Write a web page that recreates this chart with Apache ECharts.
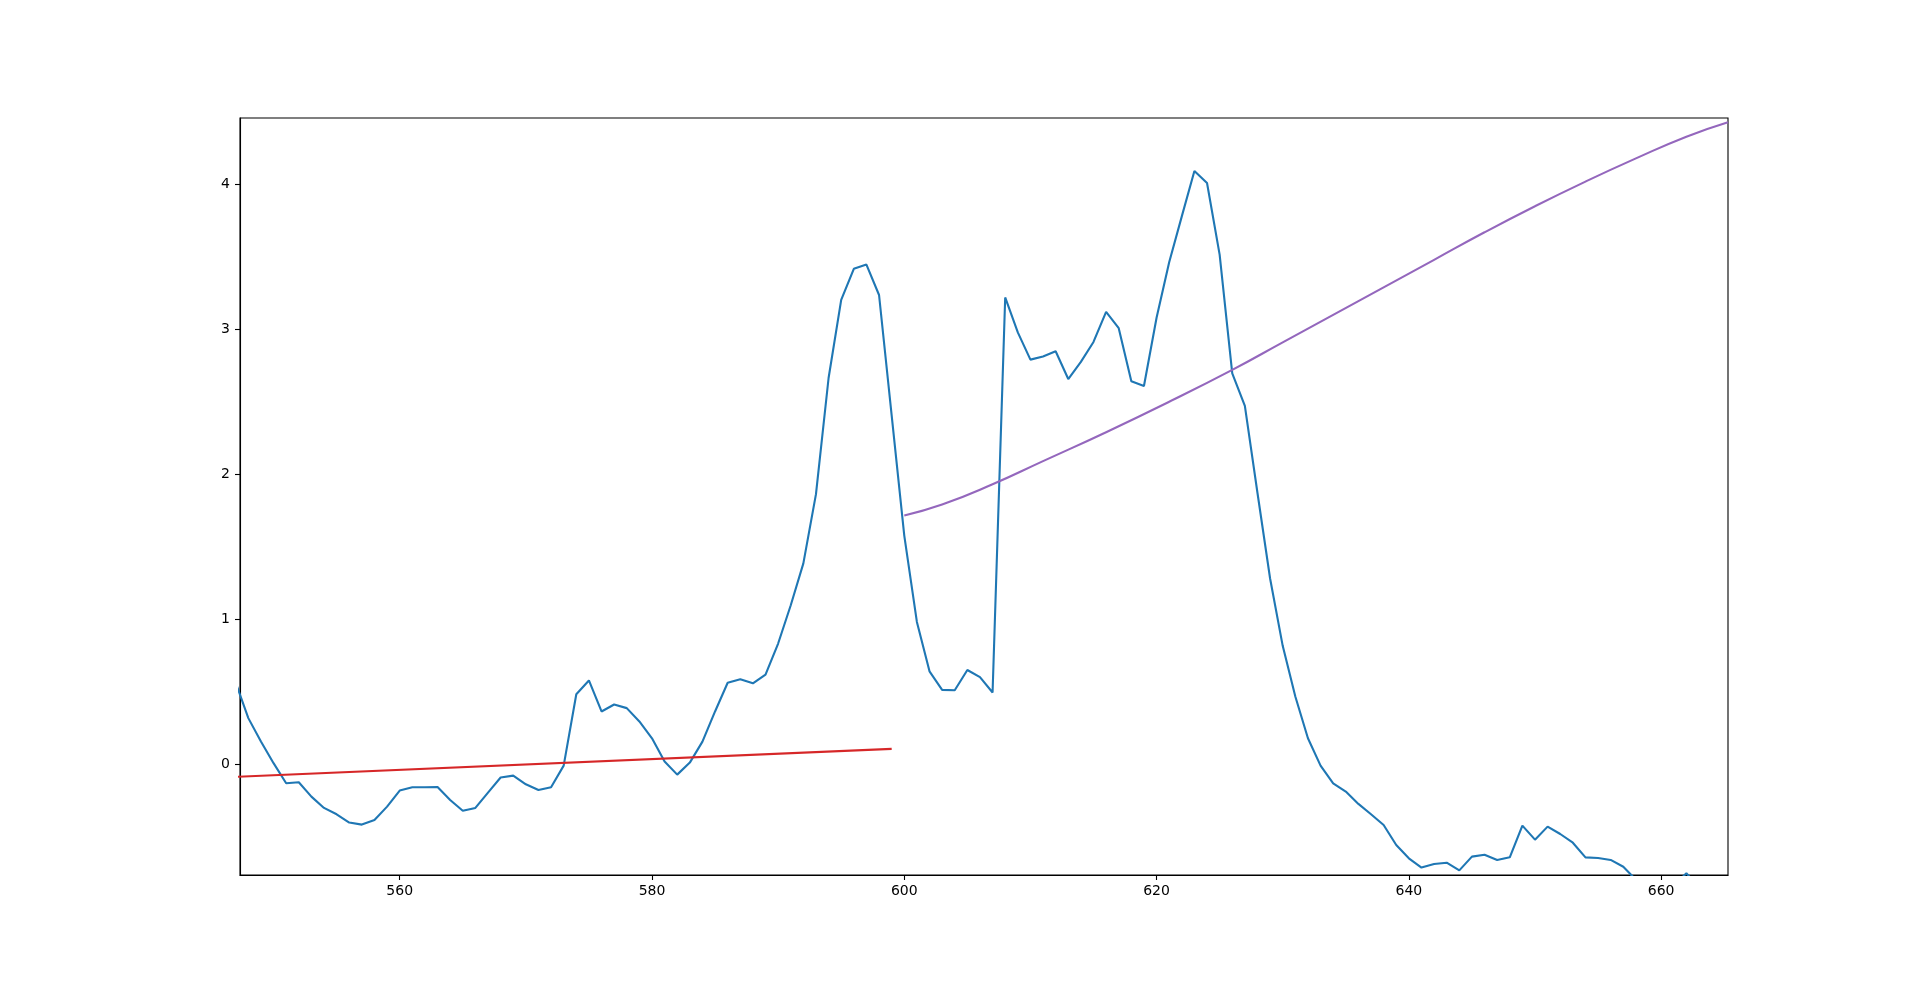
<!DOCTYPE html>
<html>
<head>
<meta charset="utf-8">
<title>spectrum</title>
<script src="https://cdn.jsdelivr.net/npm/echarts@6/dist/echarts.min.js"></script>
<style>
  html, body { margin: 0; padding: 0; background: #fff; }
  #chart { width: 1920px; height: 983px; }
</style>
</head>
<body>
<div id="chart"></div>
<script>
// measured spectrum (blue)
const waveX = [
  547, 548, 549, 550, 551, 552, 553, 554, 555, 556, 557, 558, 559, 560, 561, 562, 563, 564, 565, 566,
  567, 568, 569, 570, 571, 572, 573, 574, 575, 576, 577, 578, 579, 580, 581, 582, 583, 584, 585, 586,
  587, 588, 589, 590, 591, 592, 593, 594, 595, 596, 597, 598, 599, 600, 601, 602, 603, 604, 605, 606,
  607, 608, 609, 610, 611, 612, 613, 614, 615, 616, 617, 618, 619, 620, 621, 622, 623, 624, 625, 626,
  627, 628, 629, 630, 631, 632, 633, 634, 635, 636, 637, 638, 639, 640, 641, 642, 643, 644, 645, 646,
  647, 648, 649, 650, 651, 652, 653, 654, 655, 656, 657, 658, 659, 660, 661, 662, 663, 664, 665
]
const waveY = [
  0.56, 0.316, 0.154, 0.005, -0.134, -0.127, -0.226, -0.304, -0.348, -0.405, -0.419, -0.387, -0.295, -0.184, -0.161, -0.161, -0.159, -0.249, -0.323, -0.304,
  -0.198, -0.094, -0.081, -0.141, -0.180, -0.161, -0.012, 0.481, 0.576, 0.362, 0.410, 0.385, 0.293, 0.177, 0.016, -0.074, 0.009, 0.154, 0.362, 0.560,
  0.585, 0.556, 0.617, 0.831, 1.095, 1.384, 1.862, 2.664, 3.203, 3.418, 3.447, 3.237, 2.406, 1.576, 0.980, 0.639, 0.511, 0.508, 0.648, 0.599,
  0.493, 3.220, 2.979, 2.791, 2.813, 2.849, 2.657, 2.775, 2.913, 3.120, 3.008, 2.641, 2.609, 3.080, 3.463, 3.780, 4.093, 4.010, 3.516, 2.696,
  2.471, 1.87, 1.28, 0.815, 0.465, 0.177, -0.012, -0.134, -0.191, -0.276, -0.348, -0.422, -0.560, -0.652, -0.716, -0.691, -0.682, -0.735, -0.640, -0.627,
  -0.663, -0.645, -0.426, -0.523, -0.433, -0.484, -0.544, -0.645, -0.650, -0.663, -0.710, -0.80, -0.86, -0.88, -0.84, -0.755, -0.85, -0.90, -0.92
]

// linear baseline (red)
const baseX = [547, 599]
const baseY = [-0.089, 0.104]

// fitted curve (purple)
const fitX = [600, 603, 607, 611, 616, 621, 626, 630, 634, 638, 642, 646, 650, 654, 658, 662, 665.3]
const fitY = [1.715, 1.79, 1.93, 2.09, 2.29, 2.50, 2.72, 2.91, 3.10, 3.29, 3.48, 3.67, 3.85, 4.02, 4.18, 4.33, 4.43]

const xTicks = [560, 580, 600, 620, 640, 660]
const yTicks = [0, 1, 2, 3, 4]

function pairs (xs, ys) {
  return xs.map((x, i) => [x, ys[i]])
}

const chart = echarts.init(document.getElementById('chart'), null, { renderer: 'canvas' })

const axisText = { fontFamily: 'DejaVu Sans', fontSize: 14, color: '#000' }

chart.setOption({
  animation: false,
  backgroundColor: '#fff',
  grid: {
    left: 240,
    right: 192,
    top: 118,
    bottom: 108,
    show: true,
    borderColor: '#000',
    borderWidth: 1.1,
    backgroundColor: 'transparent'
  },
  xAxis: {
    type: 'value',
    min: 547.34,
    max: 665.3,
    splitLine: { show: false },
    axisLine: { show: true, onZero: false, lineStyle: { color: '#000', width: 1.1 } },
    axisTick: { show: true, length: 5, customValues: xTicks, lineStyle: { color: '#000', width: 1.1 } },
    axisLabel: Object.assign({ margin: 9, customValues: xTicks }, axisText)
  },
  yAxis: {
    type: 'value',
    min: -0.767,
    max: 4.459,
    splitLine: { show: false },
    axisLine: { show: true, onZero: false, lineStyle: { color: '#000', width: 1.1 } },
    axisTick: { show: true, length: 5, customValues: yTicks, lineStyle: { color: '#000', width: 1.1 } },
    axisLabel: Object.assign({ margin: 10, customValues: yTicks }, axisText)
  },
  series: [
    {
      name: 'spectrum',
      type: 'line',
      data: pairs(waveX, waveY),
      symbol: 'none',
      clip: true,
      lineStyle: { color: '#1f77b4', width: 2.1 }
    },
    {
      name: 'baseline',
      type: 'line',
      data: pairs(baseX, baseY),
      symbol: 'none',
      clip: true,
      lineStyle: { color: '#d62728', width: 2.1 }
    },
    {
      name: 'fit',
      type: 'line',
      data: pairs(fitX, fitY),
      symbol: 'none',
      smooth: 0.5,
      clip: true,
      lineStyle: { color: '#9467bd', width: 2.1 }
    }
  ]
})
</script>
</body>
</html>
